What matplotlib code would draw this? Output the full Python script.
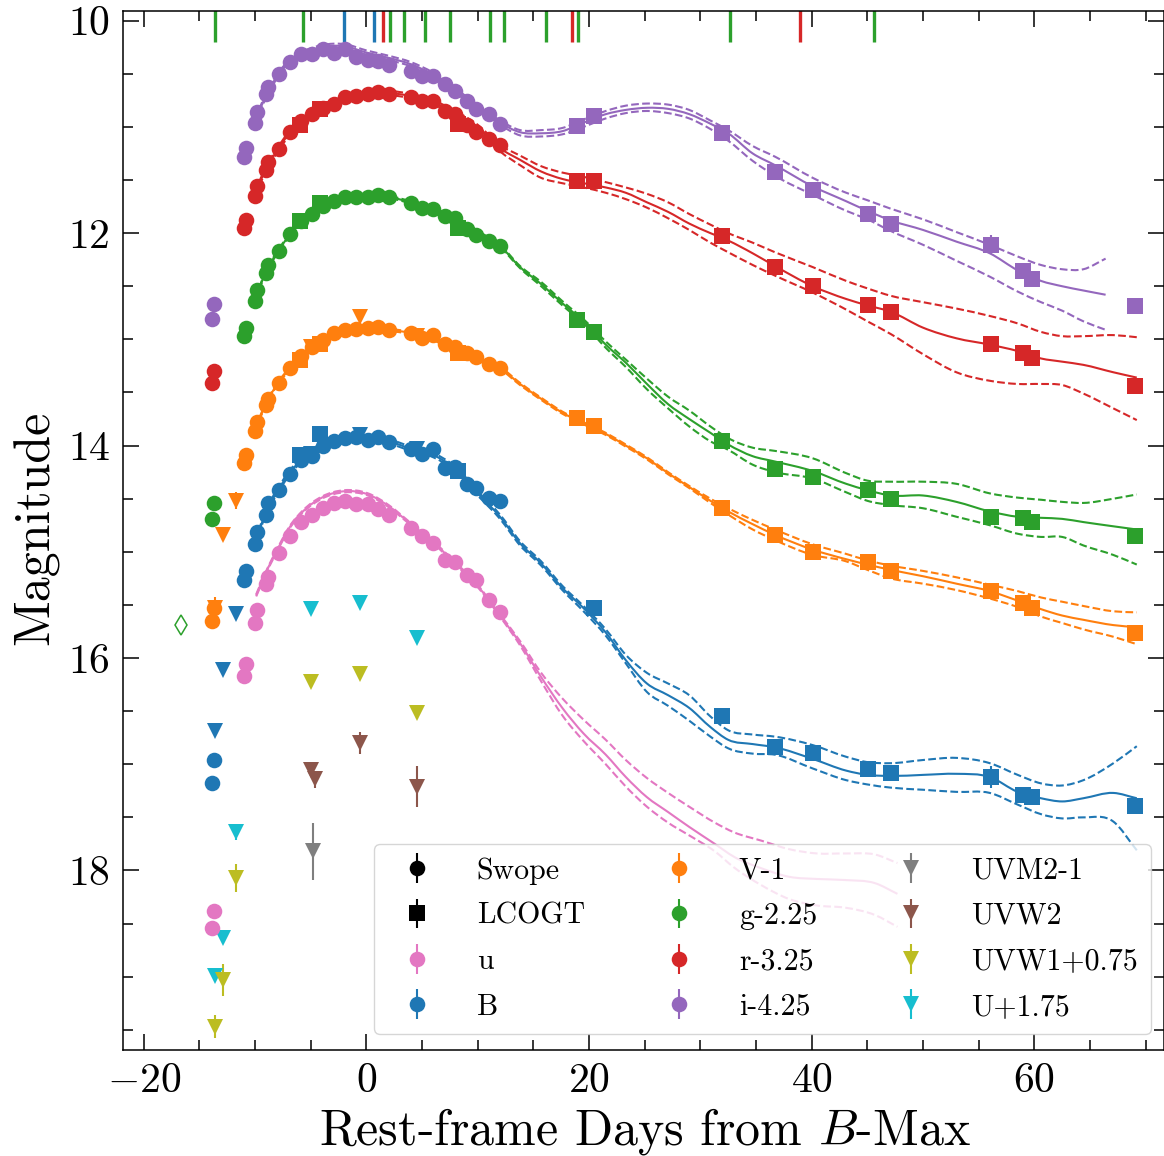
import matplotlib
matplotlib.use('Agg')
import numpy as np
import matplotlib.pyplot as plt
from matplotlib.path import Path
from matplotlib.patches import PathPatch
from matplotlib.ticker import MultipleLocator

plt.rcParams['font.family'] = ['cmr10', 'DejaVu Serif']
plt.rcParams['mathtext.fontset'] = 'cm'
plt.rcParams['axes.unicode_minus'] = False
plt.rcParams['axes.formatter.use_mathtext'] = True

# epochs of the two telescopes
t_swope = [-13.9, -13.7, -11.0, -10.8, -10.0, -9.8, -9.0, -8.8, -7.85, -6.85, -5.85, -4.9, -3.9, -2.9,
           -1.95, -0.95, 0.1, 1.0, 2.0, 4.05, 5.0, 6.0, 7.05, 8.0, 9.0, 9.8, 11.0, 12.0]
t_lco = [-6.0, -4.2, 8.2, 18.95, 20.45, 31.9, 36.7, 40.15, 45.1, 47.15, 56.1, 59.0, 59.8, 69.0]

# Swope photometry, offsets already applied
u_swope = [18.54, 18.38, 16.17, 16.06, 15.67, 15.55, 15.30, 15.24, 15.01, 14.85, 14.72, 14.65, 14.59, 14.54,
           14.52, 14.55, 14.55, 14.60, 14.65, 14.78, 14.85, 14.92, 15.08, 15.10, 15.22, 15.27, 15.45, 15.57]
b_swope = [17.18, 16.96, 15.27, 15.18, 14.93, 14.81, 14.65, 14.54, 14.42, 14.27, 14.14, 14.10, 14.00, 13.96,
           13.93, 13.92, 13.95, 13.92, 13.97, 14.03, 14.08, 14.03, 14.21, 14.20, 14.36, 14.40, 14.49, 14.52]
v_swope = [15.65, 15.53, 14.16, 14.09, 13.86, 13.78, 13.62, 13.56, 13.41, 13.27, 13.16, 13.07, 13.01, 12.94,
           12.91, 12.90, 12.89, 12.88, 12.91, 12.94, 12.99, 12.96, 13.04, 13.07, 13.13, 13.17, 13.23, 13.27]
g_swope = [14.69, 14.54, 12.97, 12.89, 12.64, 12.54, 12.38, 12.30, 12.17, 12.01, 11.89, 11.82, 11.74, 11.70,
           11.66, 11.66, 11.66, 11.64, 11.66, 11.72, 11.76, 11.77, 11.84, 11.86, 11.96, 12.02, 12.07, 12.12]
r_swope = [13.41, 13.30, 11.95, 11.88, 11.65, 11.56, 11.41, 11.33, 11.21, 11.05, 10.94, 10.88, 10.82, 10.78,
           10.72, 10.71, 10.69, 10.67, 10.69, 10.72, 10.76, 10.76, 10.85, 10.88, 10.98, 11.05, 11.11, 11.17]
i_swope = [12.81, 12.67, 11.28, 11.20, 10.96, 10.86, 10.69, 10.62, 10.50, 10.39, 10.31, 10.31, 10.27, 10.30,
           10.27, 10.34, 10.37, 10.38, 10.42, 10.47, 10.52, 10.52, 10.60, 10.66, 10.76, 10.83, 10.88, 10.97]

# LCOGT photometry
t_lco_b = [-6.0, -4.2, 8.2, 20.45, 31.9, 36.7, 40.15, 45.1, 47.15, 56.1, 59.0, 59.8, 69.0]
b_lco = [14.09, 13.89, 14.24, 15.53, 16.55, 16.84, 16.89, 17.04, 17.08, 17.12, 17.29, 17.31, 17.39]
b_lco_err = [0.02, 0.02, 0.02, 0.02, 0.02, 0.02, 0.02, 0.02, 0.02, 0.10, 0.02, 0.02, 0.02]
v_lco = [13.19, 13.04, 13.13, 13.74, 13.82, 14.59, 14.84, 15.00, 15.10, 15.18, 15.37, 15.48, 15.53, 15.76]
g_lco = [11.89, 11.72, 11.95, 12.82, 12.93, 13.96, 14.22, 14.30, 14.42, 14.50, 14.67, 14.68, 14.72, 14.85]
r_lco = [10.98, 10.83, 10.97, 11.51, 11.51, 12.03, 12.32, 12.50, 12.68, 12.74, 13.04, 13.13, 13.18, 13.44]
t_lco_i = [18.95, 20.45, 31.9, 36.7, 40.15, 45.1, 47.15, 56.1, 59.0, 59.8, 69.0]
i_lco = [10.99, 10.90, 11.06, 11.42, 11.59, 11.82, 11.91, 12.11, 12.36, 12.43, 12.69]
i_lco_err = [0.02, 0.02, 0.02, 0.02, 0.02, 0.02, 0.02, 0.09, 0.02, 0.02, 0.02]

# Swift points
t_uvot = [-13.58, -12.86, -11.67, -5.0, -0.6, 4.55]
uu_uvot = [18.99, 18.64, 17.64, 15.54, 15.48, 15.81]
uu_err = [0.03, 0.03, 0.07, 0.03, 0.03, 0.03]
w1_uvot = [19.47, 19.03, 18.07, 16.23, 16.15, 16.52]
w1_err = [0.11, 0.15, 0.13, 0.04, 0.04, 0.05]
bs_uvot = [16.69, 16.11, 15.59, 14.08, 13.90, 14.03]
bs_err = [0.03, 0.03, 0.03, 0.03, 0.03, 0.03]
vs_uvot = [15.53, 14.84, 14.52, 13.07, 12.79, 12.97]
vs_err = [0.10, 0.06, 0.08, 0.03, 0.03, 0.03]
t_w2 = [-5.0, -4.65, -0.6, 4.55]
w2_uvot = [17.05, 17.14, 16.80, 17.21]
w2_err = [0.03, 0.08, 0.10, 0.19]
t_m2 = [-4.8]
m2_uvot = [17.82]
m2_err = [0.27]

# fit curves
t_fit = [-10, -9, -8, -7, -6, -5, -4, -2, 0, 2, 4, 6, 8, 10, 12, 13.8, 15.7, 17.6, 19.5, 21.5, 23.3, 25.2, 27.1,
         29, 30.9, 32.5, 34.7, 36.7, 40.1, 43.1, 45, 47.1, 50, 53, 56, 58.5, 60.6, 62.5, 64.4, 67.1, 69.2]
t_fit_i = [-10, -9, -8, -7, -6, -5, -4, -2, 0, 2, 4, 6, 8, 10, 12, 13.8, 15.7, 17.6, 19.5, 21.5, 23.3, 25.2, 27.1,
           29, 30.9, 32.5, 34.7, 36.7, 40.1, 43.1, 45, 47.1, 50, 53, 56, 58.5, 60.6, 62.5, 64.4, 66.4]
t_fit_u = [-9.9, -9, -7.9, -6.9, -5.7, -4, -2, 0.15, 2, 4, 6, 8, 9.9, 12, 13.8, 15.7, 17.6, 19.5, 21.5, 23.3,
           25.2, 27.1, 29, 31.3, 33, 35.5, 38, 40.5, 43, 45.7, 47.7]

u_fit = [15.41, 15.19, 14.96, 14.77, 14.62, 14.49, 14.43, 14.46, 14.57, 14.74, 14.91, 15.11, 15.31, 15.60, 15.86,
         16.18, 16.47, 16.71, 16.91, 17.12, 17.31, 17.45, 17.59, 17.75, 17.87, 17.98, 18.06, 18.08, 18.09, 18.12, 18.22]
u_hi = [15.40, 15.18, 14.95, 14.76, 14.61, 14.48, 14.42, 14.45, 14.56, 14.73, 14.90, 15.10, 15.30, 15.59, 15.84,
        16.14, 16.38, 16.58, 16.77, 16.96, 17.13, 17.27, 17.40, 17.55, 17.64, 17.72, 17.80, 17.84, 17.84, 17.85, 17.93]
u_lo = [15.42, 15.20, 14.97, 14.78, 14.63, 14.50, 14.44, 14.47, 14.58, 14.75, 14.92, 15.12, 15.32, 15.61, 15.88,
        16.22, 16.54, 16.78, 17.00, 17.21, 17.40, 17.55, 17.67, 17.82, 17.97, 18.14, 18.27, 18.33, 18.35, 18.42, 18.53]

b_fit = [14.92, 14.62, 14.43, 14.27, 14.15, 14.06, 14.00, 13.93, 13.93, 13.96, 14.03, 14.09, 14.22, 14.45, 14.67,
         14.92, 15.11, 15.34, 15.53, 15.76, 16.02, 16.24, 16.35, 16.47, 16.65, 16.77, 16.81, 16.84, 16.95, 17.06,
         17.10, 17.11, 17.10, 17.09, 17.12, 17.26, 17.32, 17.35, 17.32, 17.27, 17.32]
b_hi = [14.90, 14.60, 14.41, 14.25, 14.13, 14.04, 13.98, 13.91, 13.91, 13.94, 14.01, 14.07, 14.20, 14.43, 14.65,
        14.90, 15.09, 15.32, 15.51, 15.73, 15.97, 16.14, 16.24, 16.35, 16.55, 16.68, 16.72, 16.74, 16.82, 16.93,
        16.98, 16.99, 16.96, 16.94, 16.99, 17.10, 17.18, 17.20, 17.15, 16.99, 16.83]
b_lo = [14.94, 14.64, 14.45, 14.29, 14.17, 14.08, 14.02, 13.95, 13.95, 13.98, 14.05, 14.11, 14.24, 14.47, 14.69,
        14.94, 15.13, 15.36, 15.56, 15.79, 16.05, 16.32, 16.45, 16.59, 16.74, 16.85, 16.90, 16.91, 17.04, 17.15,
        17.19, 17.22, 17.24, 17.26, 17.27, 17.38, 17.47, 17.51, 17.50, 17.54, 17.81]

v_fit = [13.85, 13.60, 13.42, 13.29, 13.18, 13.08, 13.01, 12.92, 12.89, 12.91, 12.94, 13.00, 13.09, 13.19, 13.27,
         13.42, 13.56, 13.69, 13.79, 13.89, 14.00, 14.12, 14.26, 14.39, 14.52, 14.62, 14.74, 14.84, 14.98, 15.07,
         15.12, 15.17, 15.23, 15.30, 15.37, 15.46, 15.54, 15.60, 15.64, 15.69, 15.71]
v_hi = [13.84, 13.59, 13.41, 13.28, 13.17, 13.07, 13.00, 12.91, 12.88, 12.90, 12.93, 12.99, 13.08, 13.18, 13.26,
        13.41, 13.55, 13.68, 13.78, 13.88, 13.99, 14.11, 14.25, 14.38, 14.50, 14.59, 14.70, 14.79, 14.93, 15.02,
        15.08, 15.13, 15.18, 15.24, 15.31, 15.37, 15.43, 15.47, 15.51, 15.56, 15.57]
v_lo = [13.86, 13.61, 13.43, 13.30, 13.19, 13.09, 13.02, 12.93, 12.90, 12.92, 12.95, 13.01, 13.10, 13.20, 13.28,
        13.43, 13.57, 13.70, 13.80, 13.90, 14.01, 14.13, 14.27, 14.40, 14.54, 14.65, 14.79, 14.89, 15.03, 15.09,
        15.17, 15.25, 15.30, 15.36, 15.44, 15.52, 15.61, 15.67, 15.73, 15.80, 15.87]

g_fit = [12.62, 12.36, 12.18, 12.03, 11.90, 11.80, 11.74, 11.67, 11.65, 11.66, 11.71, 11.77, 11.86, 11.99, 12.12,
         12.32, 12.48, 12.66, 12.83, 13.05, 13.22, 13.42, 13.61, 13.75, 13.88, 13.99, 14.10, 14.15, 14.24, 14.36,
         14.42, 14.47, 14.47, 14.53, 14.62, 14.67, 14.68, 14.69, 14.72, 14.76, 14.79]
g_hi = [12.61, 12.35, 12.17, 12.02, 11.89, 11.79, 11.73, 11.66, 11.64, 11.65, 11.70, 11.76, 11.85, 11.98, 12.11,
        12.31, 12.46, 12.64, 12.81, 13.02, 13.19, 13.37, 13.54, 13.67, 13.82, 13.93, 14.02, 14.05, 14.12, 14.26,
        14.33, 14.34, 14.34, 14.36, 14.45, 14.49, 14.51, 14.53, 14.54, 14.50, 14.46]
g_lo = [12.63, 12.37, 12.19, 12.04, 11.91, 11.81, 11.75, 11.68, 11.66, 11.67, 11.72, 11.78, 11.87, 12.00, 12.13,
        12.33, 12.50, 12.68, 12.85, 13.08, 13.26, 13.47, 13.65, 13.82, 13.96, 14.04, 14.18, 14.25, 14.31, 14.44,
        14.52, 14.56, 14.59, 14.67, 14.75, 14.83, 14.86, 14.86, 14.94, 15.03, 15.12]

r_fit = [11.63, 11.39, 11.22, 11.07, 10.96, 10.88, 10.82, 10.73, 10.68, 10.68, 10.71, 10.77, 10.87, 11.00, 11.20,
         11.31, 11.42, 11.49, 11.53, 11.57, 11.62, 11.71, 11.80, 11.91, 12.00, 12.07, 12.19, 12.31, 12.50, 12.62,
         12.68, 12.74, 12.89, 12.99, 13.05, 13.11, 13.18, 13.21, 13.24, 13.31, 13.36]
r_hi = [11.61, 11.37, 11.20, 11.05, 10.94, 10.86, 10.80, 10.71, 10.66, 10.66, 10.69, 10.75, 10.85, 10.98, 11.17,
        11.27, 11.37, 11.43, 11.47, 11.52, 11.57, 11.63, 11.71, 11.82, 11.92, 12.00, 12.09, 12.18, 12.32, 12.45,
        12.52, 12.59, 12.65, 12.71, 12.78, 12.85, 12.93, 12.97, 12.97, 12.96, 12.98]
r_lo = [11.65, 11.41, 11.24, 11.09, 10.98, 10.90, 10.84, 10.75, 10.70, 10.70, 10.73, 10.79, 10.89, 11.02, 11.23,
        11.36, 11.48, 11.53, 11.57, 11.62, 11.68, 11.76, 11.86, 11.97, 12.09, 12.18, 12.30, 12.40, 12.56, 12.72,
        12.83, 12.95, 13.14, 13.31, 13.39, 13.42, 13.42, 13.43, 13.51, 13.65, 13.76]

i_fit = [10.95, 10.70, 10.52, 10.40, 10.32, 10.28, 10.25, 10.24, 10.30, 10.35, 10.41, 10.51, 10.66, 10.81, 10.96,
         11.05, 11.06, 11.04, 10.96, 10.88, 10.84, 10.82, 10.83, 10.88, 10.97, 11.06, 11.25, 11.36, 11.56, 11.70,
         11.79, 11.88, 11.97, 12.08, 12.19, 12.35, 12.45, 12.50, 12.54, 12.58]
i_hi = [10.93, 10.68, 10.50, 10.38, 10.30, 10.26, 10.23, 10.22, 10.28, 10.33, 10.39, 10.49, 10.64, 10.79, 10.94,
        11.03, 11.03, 11.01, 10.93, 10.85, 10.80, 10.78, 10.79, 10.84, 10.94, 11.03, 11.18, 11.28, 11.48, 11.62,
        11.69, 11.77, 11.87, 11.99, 12.11, 12.22, 12.30, 12.34, 12.34, 12.24]
i_lo = [10.97, 10.72, 10.54, 10.42, 10.34, 10.30, 10.27, 10.26, 10.32, 10.37, 10.43, 10.53, 10.68, 10.83, 10.98,
        11.08, 11.09, 11.07, 11.00, 10.92, 10.87, 10.85, 10.87, 10.92, 11.02, 11.13, 11.32, 11.46, 11.64, 11.79,
        11.87, 11.98, 12.11, 12.26, 12.41, 12.55, 12.65, 12.73, 12.83, 12.91]

# spectra epochs along the top
spec_green = [-13.62, -5.71, 2.15, 3.38, 5.27, 7.51, 11.13, 12.33, 16.16, 19.0, 32.7, 45.57]
spec_blue = [-2.03, 0.66]
spec_red = [1.53, 18.49, 38.96]

# the lone diamond
t_disc = [-16.7]
m_disc = [15.69]

BLUE, ORANGE, GREEN, RED, PURPLE = 'tab:blue', 'tab:orange', 'tab:green', 'tab:red', 'tab:purple'
BROWN, PINK, GRAY, OLIVE, CYAN = 'tab:brown', 'tab:pink', 'tab:gray', 'tab:olive', 'tab:cyan'

fig = plt.figure(figsize=(11.64, 11.56), dpi=100)
ax = fig.add_axes([122.5 / 1164, 106 / 1156, 1041 / 1164, 1039.3 / 1156])


# bezier through the read points so the curves do not look like polygons
def smooth_path(t, y):
    t = np.asarray(t, float)
    y = np.asarray(y, float)
    slope = np.gradient(y, t)
    verts = [(t[0], y[0])]
    codes = [Path.MOVETO]
    for k in range(len(t) - 1):
        dt = (t[k + 1] - t[k]) / 3
        verts += [(t[k] + dt, y[k] + slope[k] * dt), (t[k + 1] - dt, y[k + 1] - slope[k + 1] * dt), (t[k + 1], y[k + 1])]
        codes += [Path.CURVE4, Path.CURVE4, Path.CURVE4]
    return Path(verts, codes)


def draw_fit(t, mean, upper, lower, color):
    ax.add_patch(PathPatch(smooth_path(t, mean), fill=False, ec=color, lw=1.5, zorder=2))
    ax.add_patch(PathPatch(smooth_path(t, upper), fill=False, ec=color, lw=1.5, ls='--', zorder=2))
    ax.add_patch(PathPatch(smooth_path(t, lower), fill=False, ec=color, lw=1.5, ls='--', zorder=2))


draw_fit(t_fit_u, u_fit, u_hi, u_lo, PINK)
draw_fit(t_fit, b_fit, b_hi, b_lo, BLUE)
draw_fit(t_fit, v_fit, v_hi, v_lo, ORANGE)
draw_fit(t_fit, g_fit, g_hi, g_lo, GREEN)
draw_fit(t_fit, r_fit, r_hi, r_lo, RED)
draw_fit(t_fit_i, i_fit, i_hi, i_lo, PURPLE)

# triangles first, photometry sits on top of them
ms = 11.2
ax.errorbar(t_uvot, uu_uvot, yerr=uu_err, fmt='v', color=CYAN, ms=ms, mew=0, zorder=3)
ax.errorbar(t_uvot, w1_uvot, yerr=w1_err, fmt='v', color=OLIVE, ms=ms, mew=0, zorder=3)
ax.errorbar(t_w2, w2_uvot, yerr=w2_err, fmt='v', color=BROWN, ms=ms, mew=0, zorder=3)
ax.errorbar(t_m2, m2_uvot, yerr=m2_err, fmt='v', color=GRAY, ms=ms, mew=0, zorder=3)
ax.errorbar(t_uvot, bs_uvot, yerr=bs_err, fmt='v', color=BLUE, ms=ms, mew=0, zorder=3)
ax.errorbar(t_uvot, vs_uvot, yerr=vs_err, fmt='v', color=ORANGE, ms=ms, mew=0, zorder=3)

ax.plot(t_swope, u_swope, 'o', color=PINK, ms=ms, mew=0, zorder=4)
ax.plot(t_swope, b_swope, 'o', color=BLUE, ms=ms, mew=0, zorder=4)
ax.plot(t_swope, v_swope, 'o', color=ORANGE, ms=ms, mew=0, zorder=4)
ax.plot(t_swope, g_swope, 'o', color=GREEN, ms=ms, mew=0, zorder=4)
ax.plot(t_swope, r_swope, 'o', color=RED, ms=ms, mew=0, zorder=4)
ax.plot(t_swope, i_swope, 'o', color=PURPLE, ms=ms, mew=0, zorder=4)

ax.errorbar(t_lco_b, b_lco, yerr=b_lco_err, fmt='s', color=BLUE, ms=ms, mew=0, zorder=4)
ax.plot(t_lco, v_lco, 's', color=ORANGE, ms=ms, mew=0, zorder=4)
ax.plot(t_lco, g_lco, 's', color=GREEN, ms=ms, mew=0, zorder=4)
ax.plot(t_lco, r_lco, 's', color=RED, ms=ms, mew=0, zorder=4)
ax.errorbar(t_lco_i, i_lco, yerr=i_lco_err, fmt='s', color=PURPLE, ms=ms, mew=0, zorder=4)

ax.plot(t_disc, m_disc, 'd', mfc='white', mec=GREEN, mew=1.1, ms=10, zorder=4)

ax.vlines(spec_green, 9.9, 10.2, color=GREEN, lw=2.4, zorder=1)
ax.vlines(spec_blue, 9.9, 10.2, color=BLUE, lw=2.4, zorder=1)
ax.vlines(spec_red, 9.9, 10.2, color=RED, lw=2.4, zorder=1)

ax.set_xlim(-21.91, 71.6)
ax.set_ylim(19.69, 9.906)

ax.xaxis.set_minor_locator(MultipleLocator(5))
ax.yaxis.set_minor_locator(MultipleLocator(0.5))
ax.set_xticks([-20, 0, 20, 40, 60])
ax.set_xticklabels(['$-20$', '$0$', '$20$', '$40$', '$60$'])
ax.set_yticks([10, 12, 14, 16, 18])
ax.set_yticklabels(['$10$', '$12$', '$14$', '$16$', '$18$'])
ax.tick_params(which='major', direction='in', top=True, right=True, length=11.5, width=1.1, labelsize=30, pad=9)
ax.tick_params(which='minor', direction='in', top=True, right=True, length=7.5, width=1.1)
for spine in ax.spines.values():
    spine.set_linewidth(1.1)

ax.set_xlabel('Rest-frame Days from $B$-Max', fontsize=36, labelpad=4, x=0.502)
ax.set_ylabel('Magnitude', fontsize=36, labelpad=6, y=0.502)

# legend only proxies
handles = []
for name, marker, color in [('Swope', 'o', 'k'), ('LCOGT', 's', 'k'), ('u', 'o', PINK), ('B', 'o', BLUE),
                            ('V-1', 'o', ORANGE), ('g-2.25', 'o', GREEN), ('r-3.25', 'o', RED), ('i-4.25', 'o', PURPLE),
                            ('UVM2-1', 'v', GRAY), ('UVW2', 'v', BROWN), ('UVW1+0.75', 'v', OLIVE), ('U+1.75', 'v', CYAN)]:
    handles.append(ax.errorbar([np.nan], [np.nan], yerr=[1], fmt=marker, color=color, ms=ms, mew=0, label=name))

leg = ax.legend(handles=handles, ncol=3, fontsize=21.5, loc='lower right', borderaxespad=0,
                labelspacing=0.6, handletextpad=1.0, columnspacing=2.15, borderpad=0.45,
                bbox_to_anchor=((1151 - 122.5) / 1041, (1050 - 1034) / 1039.3))
leg.set_zorder(10)

fig.savefig('out.png', dpi=100)
